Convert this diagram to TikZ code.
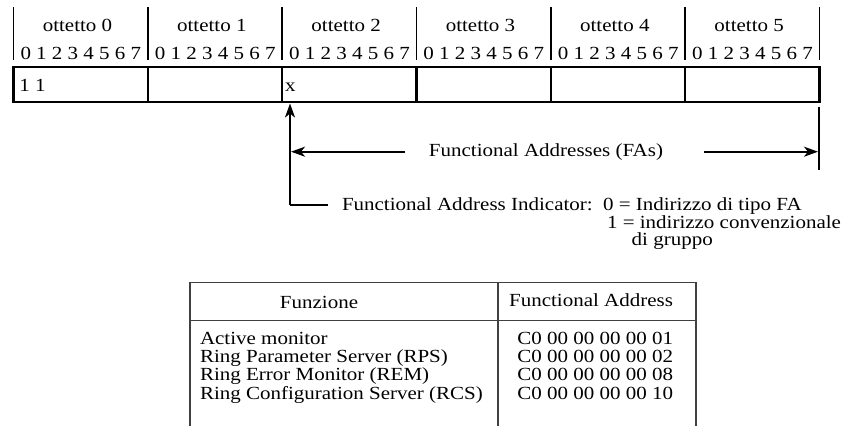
\documentclass[tikz,border=0pt]{standalone}
\usepackage{fontspec}
\setmainfont{Liberation Serif}[FakeStretch=1.135]
\usetikzlibrary{arrows.meta}
\begin{document}
\begin{tikzpicture}[x=1pt,y=-1pt,
  txt/.style={font=\fontsize{18.5}{18.5}\selectfont, inner sep=0pt, outer sep=0pt},
  cell/.style={draw, line width=2.2pt, inner sep=0pt, outer sep=0pt,
               minimum width=134.33pt, minimum height=35pt, anchor=north west},
  sep/.style={line width=1.4pt},
  arr/.style={line width=2pt, -{Stealth[length=14pt,width=10pt,inset=4pt]}},
  plain/.style={line width=2pt},
  grid/.style={line width=1.2pt, draw=black!75}]
\useasboundingbox (0,0) rectangle (844,426);

% octet headers, bit numbers and the address cells
\foreach \i in {0,...,5} {
  \pgfmathsetmacro\xl{13.5+134.33*\i}
  \node[txt, anchor=base] (oct\i) at (\xl+64,31.7) {ottetto \i};
  \node[txt, anchor=base west] (bits\i) at (\xl+7,59.3) {0 1 2 3 4 5 6 7};
  \node[cell] (cell\i) at (\xl,67) {};
}
\foreach \i in {0,...,6} {
  \pgfmathsetmacro\xs{13.5+134.33*\i}
  \draw[sep] (\xs,7) -- (\xs,60);
}

% bit contents
\node[txt, anchor=base west] (b11) at (19.3,91.7) {1 1};
\node[txt, anchor=base west] (bx) at (285,91.3) {x};

% functional addresses span
\node[txt, anchor=base] (fa) at (546,156.8) {Functional Addresses (FAs)};
\coordinate (faL) at (405,151.7);
\coordinate (faLtip) at (291,151.7);
\coordinate (faR) at (704,151.7);
\coordinate (faRtip) at (818,151.7);
\draw[arr] (faL) -- (faLtip);
\draw[arr] (faR) -- (faRtip);
\coordinate (rbTop) at (819,106.7);
\coordinate (rbBot) at (819,170);
\draw[sep] (rbTop) -- (rbBot);

% functional address indicator
\node[txt, anchor=base west] (fai) at (342,210.3) {Functional Address Indicator:};
\node[txt, anchor=base west] (v0) at (603,210.3) {0 = Indirizzo di tipo FA};
\node[txt, anchor=base west] (v1) at (607,228.8) {1 = indirizzo convenzionale};
\node[txt, anchor=base west] (v1b) at (631.7,245.5) {di gruppo};
\coordinate (indCorner) at (290,205);
\coordinate (indEnd) at (328,205);
\coordinate (indTip) at (290,103.5);
\draw[plain] (indEnd) -- (indCorner);
\draw[arr] (indCorner) -- (indTip);

% table of functional addresses
\coordinate (tTL) at (190,282.7);
\coordinate (tTR) at (696,282.7);
\draw[grid] (190,426) -- (tTL) -- (tTR) -- (696,426);
\draw[grid] (190,320.7) -- (696,320.7);
\draw[grid] (498,282.7) -- (498,426);

\node[txt, anchor=base] (hF) at (319,308) {Funzione};
\node[txt, anchor=base east] (hA) at (673,306.7) {Functional Address};

\node[txt, anchor=base west] (r1) at (200,344) {Active monitor};
\node[txt, anchor=base west] (r2) at (200,362.3) {Ring Parameter Server (RPS)};
\node[txt, anchor=base west] (r3) at (200,380.7) {Ring Error Monitor (REM)};
\node[txt, anchor=base west] (r4) at (200,399) {Ring Configuration Server (RCS)};
\node[txt, anchor=base east] (a1) at (673,344) {C0 00 00 00 00 01};
\node[txt, anchor=base east] (a2) at (673,362.3) {C0 00 00 00 00 02};
\node[txt, anchor=base east] (a3) at (673,380.7) {C0 00 00 00 00 08};
\node[txt, anchor=base east] (a4) at (673,399) {C0 00 00 00 00 10};
\end{tikzpicture}
\end{document}
